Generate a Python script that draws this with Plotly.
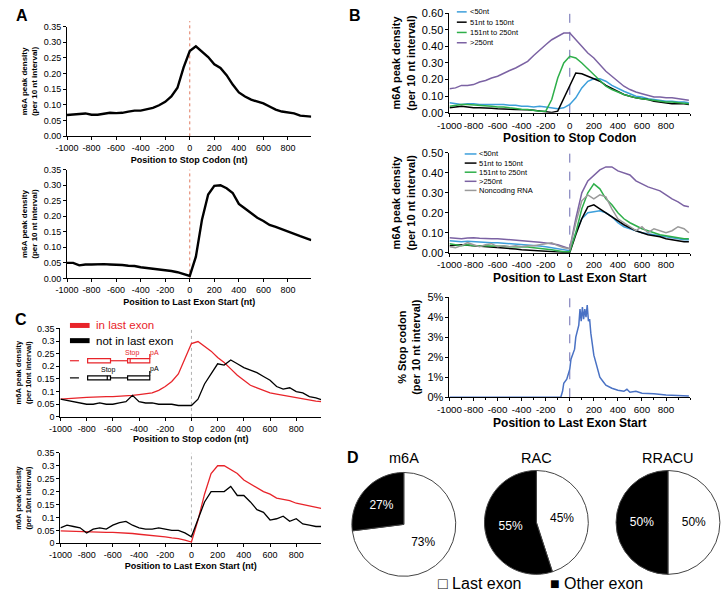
import plotly.graph_objects as go

W, H = 721, 598

# ---------------- data ----------------
pos = list(range(-1000, 1000, 50)) + [990]

a_stop = [0.068, 0.070, 0.072, 0.073, 0.069, 0.069, 0.072, 0.075, 0.074, 0.075,
          0.079, 0.082, 0.082, 0.086, 0.091, 0.099, 0.110, 0.127, 0.155, 0.220,
          0.272, 0.287, 0.270, 0.253, 0.230, 0.218, 0.195, 0.165, 0.140, 0.127,
          0.117, 0.110, 0.105, 0.095, 0.085, 0.079, 0.075, 0.073, 0.066, 0.064, 0.063]
a_last = [0.050, 0.050, 0.042, 0.045, 0.045, 0.046, 0.046, 0.045, 0.045, 0.043,
          0.041, 0.040, 0.036, 0.034, 0.032, 0.030, 0.028, 0.024, 0.020, 0.013,
          0.008, 0.070, 0.190, 0.270, 0.298, 0.300, 0.290, 0.275, 0.240, 0.225,
          0.210, 0.195, 0.185, 0.172, 0.166, 0.158, 0.150, 0.142, 0.136, 0.129, 0.123]

b_names = ["<50nt", "51nt to 150nt", "151nt to 250nt", ">250nt", "Noncoding RNA"]
b_stop_lt50 = [0.060, 0.055, 0.050, 0.055, 0.055, 0.050, 0.050, 0.050, 0.050, 0.050,
               0.045, 0.045, 0.040, 0.040, 0.035, 0.040, 0.035, 0.030, 0.025, 0.030,
               0.050, 0.090, 0.150, 0.190, 0.205, 0.205, 0.190, 0.165, 0.145, 0.130,
               0.115, 0.100, 0.095, 0.085, 0.080, 0.075, 0.070, 0.070, 0.065, 0.065, 0.060]
b_stop_51 = [0.030, 0.035, 0.040, 0.035, 0.030, 0.030, 0.030, 0.028, 0.025, 0.025,
             0.022, 0.020, 0.020, 0.018, 0.015, 0.010, 0.005, 0.002, 0.010, 0.090,
             0.170, 0.240, 0.235, 0.220, 0.205, 0.190, 0.165, 0.145, 0.125, 0.110,
             0.100, 0.090, 0.085, 0.080, 0.070, 0.065, 0.060, 0.055, 0.055, 0.055, 0.050]
b_stop_151 = [0.040, 0.045, 0.050, 0.050, 0.048, 0.045, 0.040, 0.040, 0.035, 0.035,
              0.030, 0.025, 0.022, 0.020, 0.015, 0.010, 0.010, 0.080, 0.210, 0.300,
              0.340, 0.330, 0.300, 0.265, 0.230, 0.190, 0.160, 0.140, 0.125, 0.110,
              0.100, 0.090, 0.085, 0.080, 0.075, 0.070, 0.065, 0.065, 0.060, 0.055, 0.055]
b_stop_gt250 = [0.145, 0.150, 0.165, 0.165, 0.170, 0.185, 0.195, 0.210, 0.220, 0.240,
                0.255, 0.270, 0.290, 0.310, 0.345, 0.380, 0.410, 0.440, 0.460, 0.480,
                0.480, 0.440, 0.400, 0.360, 0.330, 0.290, 0.250, 0.220, 0.190, 0.160,
                0.140, 0.125, 0.115, 0.105, 0.095, 0.095, 0.090, 0.090, 0.085, 0.080, 0.075]

b_last_lt50 = [0.060, 0.058, 0.055, 0.057, 0.055, 0.052, 0.050, 0.050, 0.050, 0.048,
               0.045, 0.043, 0.040, 0.038, 0.035, 0.033, 0.030, 0.025, 0.020, 0.015,
               0.010, 0.100, 0.170, 0.200, 0.205, 0.210, 0.200, 0.180, 0.150, 0.130,
               0.120, 0.110, 0.100, 0.095, 0.090, 0.085, 0.080, 0.075, 0.070, 0.065, 0.065]
b_last_51 = [0.035, 0.038, 0.040, 0.037, 0.035, 0.032, 0.030, 0.027, 0.025, 0.022,
             0.020, 0.018, 0.015, 0.013, 0.012, 0.011, 0.010, 0.008, 0.005, 0.003,
             0.000, 0.090, 0.170, 0.230, 0.240, 0.220, 0.200, 0.180, 0.160, 0.140,
             0.125, 0.110, 0.100, 0.090, 0.085, 0.080, 0.070, 0.065, 0.060, 0.055, 0.055]
b_last_151 = [0.045, 0.040, 0.035, 0.040, 0.035, 0.035, 0.035, 0.035, 0.035, 0.032,
              0.030, 0.030, 0.030, 0.028, 0.025, 0.022, 0.020, 0.015, 0.010, 0.005,
              0.005, 0.100, 0.220, 0.300, 0.345, 0.320, 0.270, 0.240, 0.200, 0.170,
              0.150, 0.135, 0.120, 0.110, 0.100, 0.090, 0.085, 0.080, 0.075, 0.070, 0.070]
b_last_gt250 = [0.075, 0.072, 0.070, 0.073, 0.075, 0.072, 0.070, 0.070, 0.070, 0.068,
                0.065, 0.062, 0.060, 0.058, 0.055, 0.052, 0.050, 0.045, 0.040, 0.030,
                0.020, 0.170, 0.300, 0.360, 0.390, 0.415, 0.430, 0.430, 0.410, 0.400,
                0.390, 0.360, 0.345, 0.330, 0.320, 0.310, 0.290, 0.270, 0.255, 0.235, 0.230]
b_last_ncrna = [0.030, 0.025, 0.035, 0.050, 0.040, 0.030, 0.040, 0.045, 0.030, 0.035,
                0.030, 0.035, 0.030, 0.035, 0.035, 0.040, 0.045, 0.050, 0.035, 0.025,
                0.020, 0.150, 0.260, 0.290, 0.270, 0.290, 0.280, 0.220, 0.170, 0.150,
                0.130, 0.110, 0.130, 0.100, 0.120, 0.110, 0.100, 0.110, 0.130, 0.120, 0.100]

stop_pos = [-1000, -75, -60, -50, -25, 0, 10, 25, 40, 50, 75, 85, 95, 105, 115, 125, 135,
            145, 155, 165, 175, 200, 225, 250, 275, 300, 350, 400, 450, 475, 500, 550,
            600, 700, 800, 900, 990]
stop_pct = [0.0, 0.0, 0.003, 0.007, 0.009, 0.014, 0.019, 0.022, 0.024, 0.030, 0.036, 0.044,
            0.038, 0.045, 0.039, 0.044, 0.040, 0.046, 0.038, 0.039, 0.032, 0.021, 0.015,
            0.010, 0.008, 0.006, 0.0045, 0.0035, 0.003, 0.004, 0.0025, 0.003, 0.002,
            0.0018, 0.0012, 0.001, 0.0006]

c_names = ["in last exon", "not in last exon"]
c_stop_in = [0.070, 0.072, 0.075, 0.076, 0.077, 0.078, 0.080, 0.080, 0.080, 0.081,
             0.082, 0.085, 0.088, 0.090, 0.095, 0.105, 0.120, 0.140, 0.170, 0.230,
             0.290, 0.298, 0.280, 0.260, 0.235, 0.215, 0.190, 0.165, 0.145, 0.125,
             0.115, 0.105, 0.095, 0.090, 0.085, 0.080, 0.075, 0.070, 0.065, 0.062, 0.060]
c_stop_not = [0.070, 0.065, 0.060, 0.055, 0.050, 0.050, 0.055, 0.050, 0.050, 0.055,
              0.060, 0.085, 0.060, 0.055, 0.055, 0.050, 0.050, 0.050, 0.045, 0.045,
              0.045, 0.070, 0.130, 0.170, 0.210, 0.205, 0.225, 0.210, 0.195, 0.185,
              0.175, 0.160, 0.145, 0.120, 0.110, 0.115, 0.100, 0.095, 0.080, 0.075, 0.068]
c_last_in = [0.048, 0.047, 0.045, 0.044, 0.043, 0.043, 0.043, 0.042, 0.042, 0.041,
             0.040, 0.038, 0.035, 0.033, 0.030, 0.028, 0.025, 0.021, 0.018, 0.012,
             0.005, 0.090, 0.190, 0.270, 0.300, 0.300, 0.285, 0.270, 0.245, 0.230,
             0.215, 0.200, 0.190, 0.175, 0.170, 0.165, 0.155, 0.150, 0.145, 0.140, 0.135]
c_last_not = [0.060, 0.070, 0.065, 0.060, 0.040, 0.055, 0.060, 0.055, 0.070, 0.080,
              0.085, 0.070, 0.060, 0.055, 0.055, 0.060, 0.055, 0.050, 0.050, 0.040,
              0.025, 0.090, 0.160, 0.200, 0.200, 0.200, 0.220, 0.185, 0.185, 0.160,
              0.130, 0.120, 0.090, 0.095, 0.105, 0.085, 0.095, 0.075, 0.070, 0.065, 0.065]

pie_titles = ["m6A", "RAC", "RRACU"]
pie_labels = ["Last exon", "Other exon"]
pie_last = [73, 45, 50]
pie_other = [27, 55, 50]

x_tickvals = [-1000, -800, -600, -400, -200, 0, 200, 400, 600, 800]
x_ticktext = [str(v) for v in x_tickvals]

# ---------------- helpers ----------------
FONT = "Arial, Liberation Sans, sans-serif"


def dx(a, b):
    return [a / W, b / W]


def dy(top, bottom):
    return [1 - bottom / H, 1 - top / H]


def px(x):
    return x / W


def py(y):
    return 1 - y / H


fig = go.Figure()

B_COL = {"<50nt": "#3d9fdb", "51nt to 150nt": "#000000", "151nt to 250nt": "#2eaf4a",
         ">250nt": "#7b62a3", "Noncoding RNA": "#9a9a9a"}
RED = "#e8242a"


def line(x, y, color, width, xa, ya, name):
    fig.add_trace(go.Scatter(x=x, y=y, mode="lines", line=dict(color=color, width=width),
                             xaxis=xa, yaxis=ya, name=name, showlegend=False,
                             hoverinfo="skip"))


# A
line(pos, a_stop, "black", 2.4, "x", "y", "m6A")
line(pos, a_last, "black", 2.4, "x2", "y2", "m6A")
# B top
for nm, ys in zip(b_names[:4], [b_stop_lt50, b_stop_51, b_stop_151, b_stop_gt250]):
    line(pos, ys, B_COL[nm], 1.5, "x3", "y3", nm)
# B middle
for nm, ys in zip(b_names, [b_last_lt50, b_last_51, b_last_151, b_last_gt250, b_last_ncrna]):
    line(pos, ys, B_COL[nm], 1.5, "x4", "y4", nm)
# B bottom
line(stop_pos, stop_pct, "#4a72c4", 1.5, "x5", "y5", "% Stop codon")
# C
line(pos, c_stop_in, RED, 1.3, "x6", "y6", c_names[0])
line(pos, c_stop_not, "black", 1.3, "x6", "y6", c_names[1])
line(pos, c_last_in, RED, 1.3, "x7", "y7", c_names[0])
line(pos, c_last_not, "black", 1.3, "x7", "y7", c_names[1])

# D pies
pie_domains = [(dx(345, 451), dy(476, 582)), (dx(480, 586), dy(474, 580)),
               (dx(614, 720), dy(474, 580))]
for i, t in enumerate(pie_titles):
    fig.add_trace(go.Pie(values=[pie_last[i], pie_other[i]], labels=pie_labels,
                         sort=False, direction="clockwise", rotation=0,
                         marker=dict(colors=["white", "black"], line=dict(color="#444", width=1)),
                         textinfo="percent", textposition="inside",
                         insidetextorientation="horizontal",
                         textfont=dict(color=["black", "white"], size=12, family=FONT),
                         domain=dict(x=pie_domains[i][0], y=pie_domains[i][1]),
                         showlegend=False, hoverinfo="label+percent", name=t))


def xaxis(dom, rng, tickfs, title, titlefs, standoff):
    return dict(domain=dom, range=rng, anchor=None, showline=True, linecolor="black",
                linewidth=1, ticks="outside", ticklen=3, tickcolor="black",
                tickvals=x_tickvals, ticktext=x_ticktext, tickangle=0,
                tickfont=dict(size=tickfs, family=FONT, color="black"),
                showgrid=False, zeroline=False,
                title=dict(text="<b>" + title + "</b>", font=dict(size=titlefs, family=FONT,
                                                                  color="black"),
                           standoff=standoff))


def yaxis(dom, rng, dtick, fmt, tickfs, title, titlefs, standoff):
    return dict(domain=dom, range=rng, dtick=dtick, tick0=0, tickformat=fmt,
                showline=True, linecolor="black", linewidth=1, ticks="outside",
                ticklen=3, tickcolor="black",
                tickfont=dict(size=tickfs, family=FONT, color="black"),
                showgrid=False, zeroline=False,
                title=dict(text="<b>" + title + "</b>", font=dict(size=titlefs, family=FONT,
                                                                  color="black"),
                           standoff=standoff))


A_X = dx(55, 303.75)
B_X = dx(444.5, 689.5)
C_X = dx(48.3, 313.8)
ytA = "m6A peak density<br>(per 10 nt interval)"
ytC = "m6A peak density<br>(per 10nt interval)"

layout_axes = {
    "xaxis": xaxis(A_X, [-1000, 990], 9, "Position to Stop Codon (nt)", 9, 4),
    "yaxis": yaxis(dy(21, 133), [0, 0.35], 0.05, ".2f", 9, ytA, 8, 4),
    "xaxis2": xaxis(A_X, [-1000, 990], 9, "Position to Last Exon Start (nt)", 9, 4),
    "yaxis2": yaxis(dy(167, 278), [0, 0.35], 0.05, ".2f", 9, ytA, 8, 4),
    "xaxis3": xaxis(B_X, [-1000, 1000], 9.8, "Position to Stop Codon", 12, 4),
    "yaxis3": yaxis(dy(7.3, 109), [0, 0.6], 0.1, ".2f", 11, ytA, 11, 4),
    "xaxis4": xaxis(B_X, [-1000, 1000], 9.8, "Position to Last Exon Start", 12, 4),
    "yaxis4": yaxis(dy(150, 251.7), [0, 0.5], 0.1, ".2f", 11, ytA, 11, 4),
    "xaxis5": xaxis(B_X, [-1000, 1000], 9.8, "Position to Last Exon Start", 12, 4),
    "yaxis5": yaxis(dy(297, 399.3), [0, 0.05], 0.01, ".0%", 11,
                    "% Stop codon<br>(per 10 nt interval)", 11, 4),
    "xaxis6": xaxis(C_X, [-1000, 990], 9, "Position to Stop codon (nt)", 9, 3),
    "yaxis6": yaxis(dy(329, 419.3), [0, 0.35], 0.05, None, 9, ytC, 7.5, 4),
    "xaxis7": xaxis(C_X, [-1000, 990], 9, "Position to Last Exon Start (nt)", 9, 3),
    "yaxis7": yaxis(dy(456, 548.3), [0, 0.35], 0.05, None, 9, ytC, 7.5, 4),
}
for i in range(1, 8):
    sx = "" if i == 1 else str(i)
    layout_axes["xaxis" + sx]["anchor"] = "y" + sx
    layout_axes["yaxis" + sx]["anchor"] = "x" + sx
    if i in (3, 4, 5):
        layout_axes["xaxis" + sx]["minor"] = dict(dtick=100, ticks="outside", ticklen=2,
                                                 tickcolor="black")
    if layout_axes["yaxis" + sx]["tickformat"] is None:
        del layout_axes["yaxis" + sx]["tickformat"]

shapes = []
annotations = []

# zero reference lines
zero_styles = {"x": ("#e07a5f", "dot", 1.05), "x2": ("#e07a5f", "dot", 1.0),
               "x3": ("#6b6bb0", "dash", 1.07), "x4": ("#6b6bb0", "dash", 1.07),
               "x5": ("#6b6bb0", "dash", 1.05), "x6": ("#b0b0b0", "dot", 1.0),
               "x7": ("#b0b0b0", "dot", 1.0)}
for xa, (col, dash, top) in zero_styles.items():
    ya = "y" + xa[1:]
    shapes.append(dict(type="line", xref=xa, yref=ya + " domain", x0=0, x1=0, y0=0, y1=top,
                       line=dict(color=col, width=1, dash=dash), layer="below"))

# B legends
b1_rows = [6, 16.5, 27, 37.5]
for nm, yy in zip(b_names[:4], b1_rows):
    shapes.append(dict(type="line", xref="paper", yref="paper", x0=px(452), x1=px(462),
                       y0=py(yy), y1=py(yy), line=dict(color=B_COL[nm], width=1.5)))
    annotations.append(dict(x=px(463), y=py(yy), xref="paper", yref="paper", text=nm,
                            showarrow=False, xanchor="left", yanchor="middle",
                            font=dict(size=7.5, family=FONT, color="black")))
b2_rows = [151, 160.3, 169.6, 178.9, 188.2]
for nm, yy in zip(b_names, b2_rows):
    shapes.append(dict(type="line", xref="paper", yref="paper", x0=px(460), x1=px(472),
                       y0=py(yy), y1=py(yy), line=dict(color=B_COL[nm], width=1.5)))
    annotations.append(dict(x=px(473), y=py(yy), xref="paper", yref="paper", text=nm,
                            showarrow=False, xanchor="left", yanchor="middle",
                            font=dict(size=7.5, family=FONT, color="black")))

# C legend
for nm, col, yy in zip(c_names, [RED, "black"], [326, 341.5]):
    shapes.append(dict(type="line", xref="paper", yref="paper", x0=px(58), x1=px(78),
                       y0=py(yy), y1=py(yy), line=dict(color=col, width=5)))
    annotations.append(dict(x=px(82), y=py(yy), xref="paper", yref="paper", text=nm,
                            showarrow=False, xanchor="left", yanchor="middle",
                            font=dict(size=11.5, family=FONT, color=col)))


# gene diagrams in panel C
def gene(yc, col, stop_x, stop_lab_x, stop_lab_y, pa_y):
    h = 2.1
    shapes.append(dict(type="line", xref="paper", yref="paper", x0=px(58), x1=px(76),
                       y0=py(yc), y1=py(yc), line=dict(color=col, width=1.2, dash="dash")))
    for a, b in [(76, 99.3), (116.7, 139.3)]:
        shapes.append(dict(type="rect", xref="paper", yref="paper", x0=px(a), x1=px(b),
                           y0=py(yc - h), y1=py(yc + h), line=dict(color=col, width=1.2),
                           fillcolor="white"))
    shapes.append(dict(type="line", xref="paper", yref="paper", x0=px(99.3), x1=px(116.7),
                       y0=py(yc), y1=py(yc), line=dict(color=col, width=1.2)))
    shapes.append(dict(type="line", xref="paper", yref="paper", x0=px(stop_x), x1=px(stop_x),
                       y0=py(yc - h), y1=py(yc + h), line=dict(color=col, width=1.2)))
    shapes.append(dict(type="line", xref="paper", yref="paper", x0=px(139.3), x1=px(139.3),
                       y0=py(yc - 7), y1=py(yc - h), line=dict(color=col, width=1.2)))
    annotations.append(dict(x=px(stop_lab_x), y=py(stop_lab_y), xref="paper", yref="paper",
                            text="Stop", showarrow=False, xanchor="center", yanchor="middle",
                            font=dict(size=7, family=FONT, color=col)))
    annotations.append(dict(x=px(144), y=py(pa_y), xref="paper", yref="paper",
                            text="pA", showarrow=False, xanchor="center", yanchor="middle",
                            font=dict(size=7, family=FONT, color=col)))


gene(362, RED, 119.3, 122, 354, 354)
gene(379.5, "black", 96, 97, 371, 370)

# panel letters
for letter, xx, yy in [("A", 9, 10), ("B", 348, 10), ("C", 8, 320), ("D", 346, 461)]:
    annotations.append(dict(x=px(xx), y=py(yy), xref="paper", yref="paper",
                            text="<b>" + letter + "</b>", showarrow=False, xanchor="center",
                            yanchor="middle", font=dict(size=16, family=FONT, color="black")))

# pie titles
for t, xx in zip(pie_titles, [398, 533, 667]):
    annotations.append(dict(x=px(xx), y=py(461), xref="paper", yref="paper", text=t,
                            showarrow=False, xanchor="center", yanchor="middle",
                            font=dict(size=14.5, family=FONT, color="black")))

# pie legend
for txt, xx in [("\u25a1 Last exon", 431), ("\u25a0 Other exon", 545)]:
    annotations.append(dict(x=px(xx), y=py(589), xref="paper", yref="paper",
                            text=txt, showarrow=False,
                            xanchor="left", yanchor="middle",
                            font=dict(size=16, family=FONT, color="black")))

fig.update_layout(width=W, height=H, margin=dict(l=0, r=0, t=0, b=0),
                  paper_bgcolor="white", plot_bgcolor="white", showlegend=False,
                  font=dict(family=FONT, color="black"),
                  shapes=shapes, annotations=annotations, **layout_axes)

fig.write_html("out.html", config={"displayModeBar": False},
               post_script="document.body.style.margin='0px';"
                           "document.body.style.overflow='hidden';")
